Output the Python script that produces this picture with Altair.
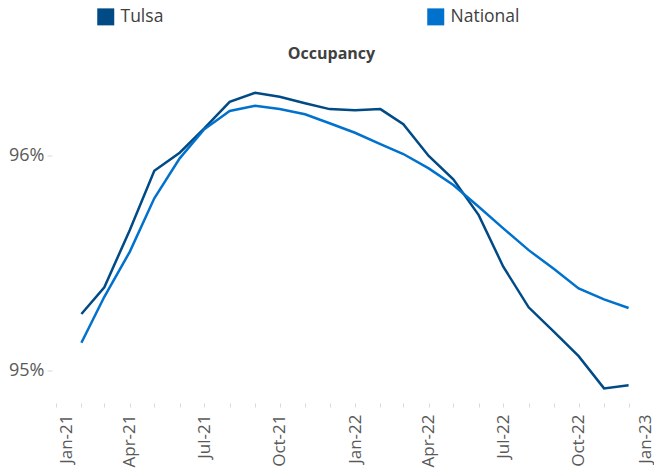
import altair as alt
import pandas as pd

months = [
    "2021-02-01", "2021-03-01", "2021-04-01", "2021-05-01", "2021-06-01", "2021-07-01",
    "2021-08-01", "2021-09-01", "2021-10-01", "2021-11-01", "2021-12-01", "2022-01-01",
    "2022-02-01", "2022-03-01", "2022-04-01", "2022-05-01", "2022-06-01", "2022-07-01",
    "2022-08-01", "2022-09-01", "2022-10-01", "2022-11-01", "2022-12-01",
]
tulsa = [95.264, 95.388, 95.654, 95.930, 96.014, 96.127, 96.251, 96.293, 96.274, 96.244,
         96.217, 96.212, 96.217, 96.147, 95.999, 95.890, 95.724, 95.484, 95.295, 95.181,
         95.068, 94.918, 94.933]
national = [95.130, 95.344, 95.553, 95.802, 95.988, 96.123, 96.208, 96.233, 96.217, 96.193,
            96.151, 96.107, 96.054, 96.008, 95.941, 95.864, 95.763, 95.662, 95.561, 95.473,
            95.383, 95.332, 95.292]
series = ["Tulsa", "National"]
colors = ["#004a86", "#0072ce"]
y_ticks = [95, 96]
title_text = "Occupancy"

rows = []
for name, vals in zip(series, [tulsa, national]):
    for m, v in zip(months, vals):
        rows.append({"month": m, "value": v, "series": name})
df = pd.DataFrame(rows)

tick_months = [alt.DateTime(year=2021 + (i // 12), month=(i % 12) + 1, date=1, utc=True) for i in range(25)]

FONT = "Open Sans"
GRAY = "#595959"

chart = alt.Chart(df).mark_line(strokeWidth=2.5).encode(
    x=alt.X(
        "month:T",
        scale=alt.Scale(
            type="utc",
            domain=[alt.DateTime(year=2021, month=1, date=1, utc=True),
                    alt.DateTime(year=2023, month=1, date=1, utc=True)],
        ),
        axis=alt.Axis(
            title=None,
            values=tick_months,
            labelExpr="utcmonth(datum.value) % 3 == 0 ? utcFormat(datum.value, '%b-%y') : ''",
            labelAngle=-90,
            labelAlign="right",
            labelBaseline="middle",
            labelFont=FONT,
            labelFontSize=17,
            labelColor=GRAY,
            labelPadding=7,
            labelOverlap=False,
            labelOffset={
                "condition": [
                    {"test": "utcyear(datum.value) == 2021 && utcmonth(datum.value) == 0", "value": 10},
                    {"test": "utcyear(datum.value) == 2023", "value": -9},
                ],
                "value": 0,
            },
            tickSize=4,
            tickColor="#d9d9d9",
            domain=False,
            grid=False,
        ),
    ),
    y=alt.Y(
        "value:Q",
        scale=alt.Scale(domain=[94.85, 96.35], nice=False, zero=False),
        axis=alt.Axis(
            title=title_text,
            titleAngle=0,
            titleX=279,
            titleY=-22.5,
            titleAlign="center",
            titleBaseline="alphabetic",
            titleFont=FONT,
            titleFontSize=16,
            titleFontWeight="bold",
            titleColor="#404040",
            values=y_ticks,
            labelExpr="datum.value + '%'",
            labelFont=FONT,
            labelFontSize=18,
            labelColor=GRAY,
            labelPadding=3,
            tickSize=5,
            tickColor="#d9d9d9",
            offset=4,
            domain=False,
            grid=False,
        ),
    ),
    color=alt.Color(
        "series:N",
        scale=alt.Scale(domain=series, range=colors),
        legend=alt.Legend(
            title=None,
            orient="none",
            legendX=41,
            legendY=-72.5,
            direction="horizontal",
            columns=2,
            columnPadding=249,
            symbolType="square",
            symbolSize=64,
            symbolStrokeWidth=9,
            labelFont=FONT,
            labelFontSize=17.5,
            labelColor="#404040",
            labelOffset=6,
            padding=0,
        ),
    ),
).properties(
    width=598,
    height=322.5,
    padding={"left": 48, "top": 72.5, "right": 0, "bottom": 68},
    autosize=alt.AutoSizeParams(type="none"),
).configure_view(stroke=None)

chart.save("out.html", embed_options={"renderer": "svg", "actions": False})
